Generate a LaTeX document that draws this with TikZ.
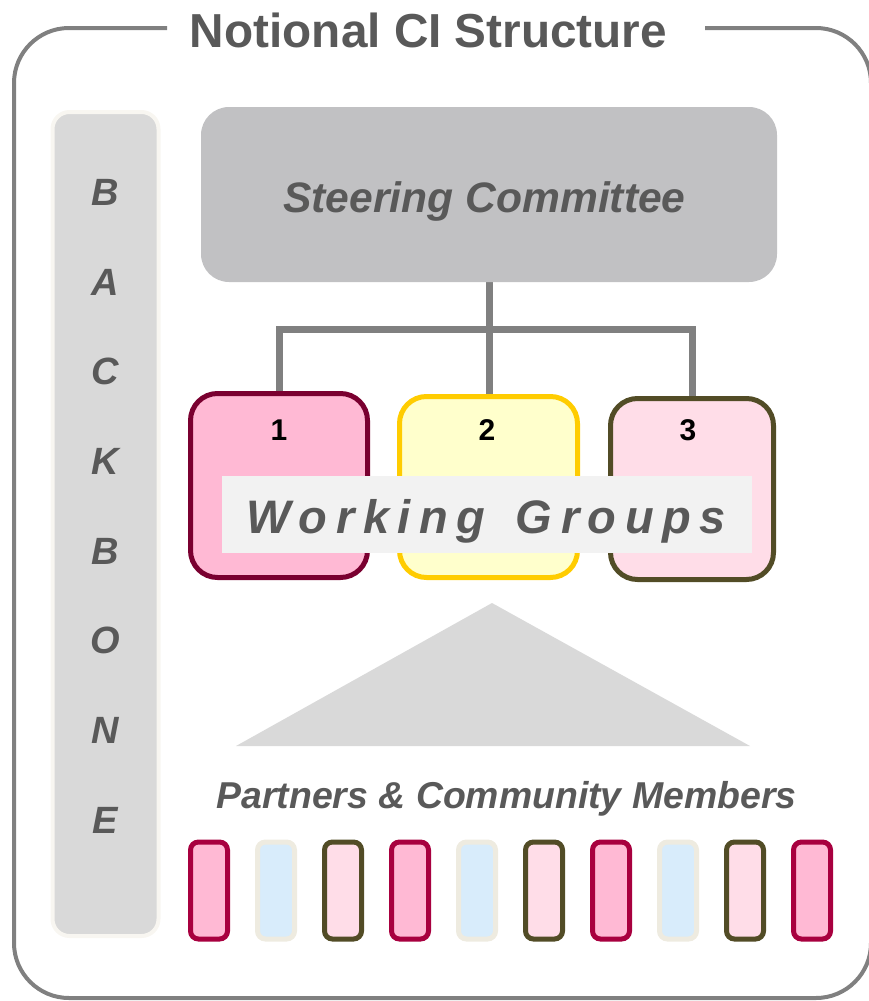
\documentclass[tikz,border=0pt]{standalone}
\usepackage{fontspec}
\setmainfont{Liberation Sans}
\usetikzlibrary{backgrounds}
\definecolor{framegray}{HTML}{808080}
\definecolor{txtgray}{HTML}{595959}
\definecolor{bbfill}{HTML}{D9D9D9}
\definecolor{bbedge}{HTML}{F8F6F1}
\definecolor{scfill}{HTML}{C1C1C3}
\definecolor{pinkA}{HTML}{FFB9D4}
\definecolor{maroon}{HTML}{7A0030}
\definecolor{yelfill}{HTML}{FFFFCC}
\definecolor{yeledge}{HTML}{FFCC00}
\definecolor{pinkB}{HTML}{FFDDE8}
\definecolor{olive}{HTML}{524C26}
\definecolor{wgfill}{HTML}{F2F2F2}
\definecolor{crimson}{HTML}{A8003F}
\definecolor{bluefill}{HTML}{D8ECFB}
\definecolor{beige}{HTML}{EEEBE0}
\definecolor{trifill}{HTML}{D9D9D9}
\newcommand{\lsp}{\kern 8.6pt}
\begin{document}
\begin{tikzpicture}[x=1pt,y=-1pt,
  frame/.style={draw=framegray, line width=4pt, rounded corners=55pt},
  lbl/.style={font=\bfseries\itshape, text=txtgray, inner sep=0pt, anchor=base},
  bbletter/.style={lbl, font=\fontsize{38}{40}\selectfont\bfseries\itshape},
  wgbox/.style={rectangle, rounded corners=27pt, line width=5pt, inner sep=0pt},
  numlbl/.style={font=\fontsize{30}{32}\selectfont\bfseries, text=black, inner sep=0pt, anchor=base},
  conn/.style={draw=framegray, line width=7pt, line join=miter, line cap=rect},
  memberbar/.style={rectangle, rounded corners=8pt, line width=5pt, inner sep=0pt, minimum width=37pt, minimum height=97pt}]
\useasboundingbox (0,0) rectangle (869,1001);

% outer frame with gap for title
\draw[frame] (167,28) -- (14,28) -- (14,998) -- (871,998) -- (871,28) -- (705,28);
\node[anchor=base, inner sep=0pt, text=txtgray, font=\fontsize{47.7}{50}\selectfont\bfseries] (title) at (428.5,47) {Notional CI Structure};

% backbone
\node[rectangle, rounded corners=17pt, fill=bbfill, draw=bbedge, line width=4pt, inner sep=0pt,
      minimum width=106pt, minimum height=824pt] (backbone) at (105.5,524) {};
\foreach \L/\yy [count=\k] in {B/205, A/295, C/384, K/474, B/564, O/653, N/743, E/833}
  \node[bbletter] (bb\k) at (105,\yy) {\L};

% steering committee
\node[rectangle, rounded corners=28pt, fill=scfill, inner sep=0pt, minimum width=576pt, minimum height=175pt] (sc) at (489,194.5) {};
\node[lbl, font=\fontsize{42.6}{44}\selectfont\bfseries\itshape] (sctext) at (484.5,212) {Steering Committee};

% working group boxes
\node[wgbox, draw=maroon, fill=pinkA, minimum width=177pt, minimum height=184pt] (wg1) at (279,485.5) {};
\node[wgbox, draw=yeledge, fill=yelfill, minimum width=178pt, minimum height=181pt] (wg2) at (488.5,487) {};
\node[wgbox, draw=olive, fill=pinkB, minimum width=163pt, minimum height=181pt] (wg3) at (692,489) {};
\node[numlbl] (n1) at (279,440) {1};
\node[numlbl] (n2) at (487,440) {2};
\node[numlbl] (n3) at (688,440) {3};

% connectors
\coordinate (bus) at (488,329);
\begin{scope}[on background layer]
\draw[conn] (sc.south) -- (sc.south |- wg2.north);
\draw[conn] (wg1.north) |- (bus) -| (wg3.north);
\end{scope}

% working groups label
\node[rectangle, fill=wgfill, inner sep=0pt, minimum width=530pt, minimum height=77pt] (wglabel) at (487,514.5) {};
\node[lbl, font=\fontsize{47}{49}\selectfont\bfseries\itshape] (wgtext) at (486,533)
  {W\lsp o\lsp r\lsp k\lsp i\lsp n\lsp g\lsp\ \lsp G\lsp r\lsp o\lsp u\lsp p\lsp s};

% triangle
\fill[trifill] (492,603) -- (750,746) -- (236,746) -- cycle;

% partners
\node[lbl, font=\fontsize{37.4}{39}\selectfont\bfseries\itshape] (partners) at (506.5,808) {Partners \& Community Members};

\foreach \i/\e/\f in {0/crimson/pinkA, 1/beige/bluefill, 2/olive/pinkB, 3/crimson/pinkA, 4/beige/bluefill,
                      5/olive/pinkB, 6/crimson/pinkA, 7/beige/bluefill, 8/olive/pinkB, 9/crimson/pinkA}
  \node[memberbar, draw=\e, fill=\f] (m\i) at ({209+67*\i},890.5) {};
\end{tikzpicture}
\end{document}
